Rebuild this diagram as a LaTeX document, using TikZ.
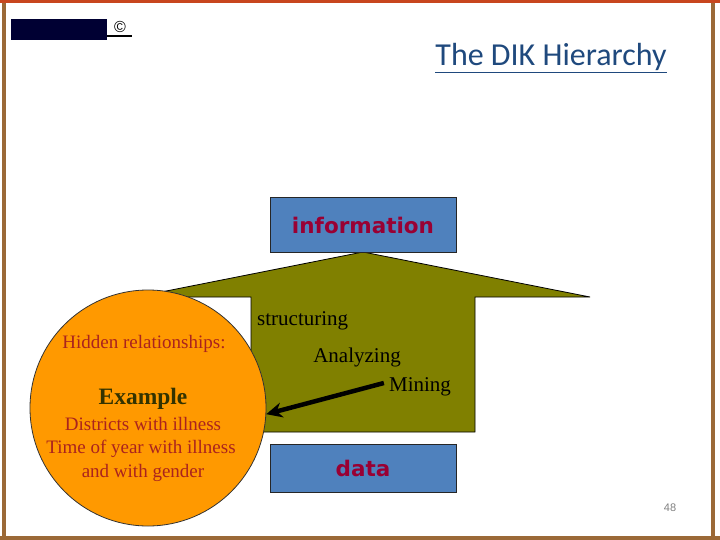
\documentclass[tikz,border=0pt]{standalone}
\usepackage{fontspec}
\setmainfont{Liberation Serif}
\newfontfamily\sansB{DejaVu Sans}
\newfontfamily\titlefont{Carlito}
\newfontfamily\numfont{Liberation Sans}
\usetikzlibrary{arrows.meta}
\definecolor{frameR}{RGB}{200,70,30}
\definecolor{frameB}{RGB}{155,105,55}
\definecolor{boxblue}{RGB}{79,129,189}
\definecolor{boxtext}{RGB}{153,0,51}
\definecolor{olivefill}{RGB}{128,128,0}
\definecolor{orangefill}{RGB}{255,153,0}
\definecolor{hidred}{RGB}{170,35,30}
\definecolor{exgreen}{RGB}{51,51,0}
\definecolor{titleblue}{RGB}{31,73,125}
\definecolor{navy}{RGB}{0,0,51}
\tikzset{
  levelbox/.style={draw=black!85, line width=1pt, fill=boxblue, minimum width=186pt, minimum height=54pt, inner sep=0pt,
    font=\sansB\bfseries\fontsize{21.5}{24}\selectfont, text=boxtext},
  steptext/.style={font=\fontsize{21}{23}\selectfont, text=black, inner sep=0pt},
  circtext/.style={font=\fontsize{19}{21}\selectfont, text=hidred, inner sep=0pt}
}
\begin{document}
\begin{tikzpicture}[x=1pt,y=-1pt]
\useasboundingbox (0,0) rectangle (720,540);
% frame
\draw[frameB, line width=4pt] (4,0) -- (4,540);
\draw[frameB, line width=4pt] (713,0) -- (713,540);
\draw[frameB, line width=4pt] (0,538) -- (720,538);
\draw[frameR, line width=3pt] (0,1.5) -- (720,1.5);
% top-left logo
\fill[navy] (11,19) rectangle (107,40);
\node[font=\numfont\fontsize{16}{18}\selectfont, inner sep=0pt] (copy) at (120,27) {©};
\draw[line width=1.5pt] (107,36) -- (132,36);
% title
\node[font=\titlefont\fontsize{32}{36}\selectfont, text=titleblue, inner sep=0pt] (title) at (551,58) {\underline{The DIK Hierarchy}};
% big arrow
\fill[olivefill, draw=black, line width=0.8pt] (363,252) -- (590,297) -- (475,297) -- (475,432) -- (251,432) -- (251,297) -- (136,297) -- cycle;
% boxes
\node[levelbox] (info) at (363,225) {information};
\node[levelbox, minimum height=48pt] (data) at (363,468) {data};
% circle
\node[circle, draw=black!80, line width=0.8pt, fill=orangefill, minimum size=236pt, inner sep=0pt] (circ) at (148,408) {};
\node[circtext] (hidden) at (144,344) {Hidden relationships:};
\node[font=\bfseries\fontsize{23.5}{26}\selectfont, text=exgreen, inner sep=0pt] (example) at (143,399) {Example};
\node[circtext] (d1) at (143,424) {Districts with illness};
\node[circtext] (d2) at (141,449) {Time of year with illness};
\node[circtext] (d3) at (143,473) {and with gender};
% steps
\node[steptext, anchor=west] (struct) at (257,321) {structuring};
\node[steptext] (analyz) at (357,357) {Analyzing};
\node[steptext] (mining) at (420,387) {Mining};
\draw[line width=4.5pt, -{Stealth[length=16pt,width=15pt]}] (mining.west) ++(-5,-4) coordinate (mstart) -- (circ.-3);
% page number
\node[font=\numfont\fontsize{11}{13}\selectfont, text=black!50, inner sep=0pt] (num) at (670,508) {48};
\end{tikzpicture}
\end{document}
